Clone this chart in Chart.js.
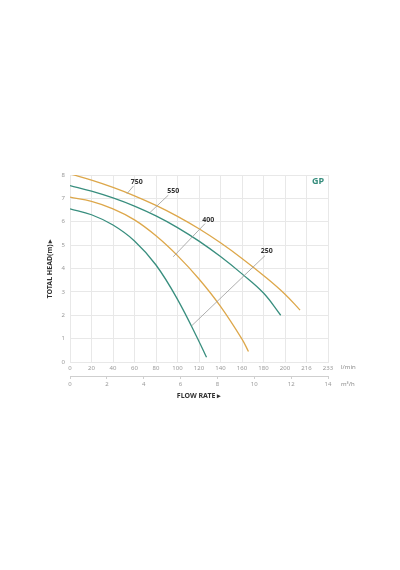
<!DOCTYPE html>
<html>
<head>
<meta charset="utf-8">
<script src="https://cdn.jsdelivr.net/npm/chart.js@4.4.0/dist/chart.umd.min.js"></script>
<style>
  html, body { margin: 0; padding: 0; background: #fff; }
  #wrap { width: 400px; height: 570px; position: relative; }
</style>
</head>
<body>
<div id="wrap"><canvas id="c1"></canvas></div>
<script>
// pump curves, flow in l/min (scale units), head in m
var q750 = [0, 20, 40, 60, 80, 100, 120, 140, 160, 180, 200, 214];
var h750 = [8.05, 7.78, 7.47, 7.11, 6.7, 6.23, 5.7, 5.1, 4.43, 3.7, 2.9, 2.22];
var q550 = [0, 20, 40, 60, 80, 100, 120, 140, 160, 180, 196];
var h550 = [7.55, 7.31, 7.02, 6.67, 6.25, 5.75, 5.17, 4.51, 3.77, 2.95, 2.0];
var q400 = [0, 20, 40, 60, 80, 100, 120, 140, 160, 166];
var h400 = [7.05, 6.87, 6.55, 6.08, 5.4, 4.55, 3.55, 2.38, 0.98, 0.45];
var q250 = [0, 20, 40, 60, 80, 100, 120, 127];
var h250 = [6.55, 6.3, 5.86, 5.18, 4.15, 2.68, 0.88, 0.2];

// tick labels (last two are not evenly spaced in value, but are on the chart)
var lminTicks = {0: '0', 20: '20', 40: '40', 60: '60', 80: '80', 100: '100', 120: '120',
  140: '140', 160: '160', 180: '180', 200: '200', 220: '216', 240: '233'};

// model labels: [text, textQ, textH, lineQ1, lineH1, lineQ2, lineH2]
var modelLabels = [
  ['750', 62, 7.68, 59, 7.53, 53, 7.2],
  ['550', 96, 7.3, 91.5, 7.14, 74.5, 6.4],
  ['400', 128.7, 6.08, 125.6, 5.92, 96, 4.5],
  ['250', 183, 4.74, 181.4, 4.55, 113.2, 1.55]
];

var orange = 'rgb(221,167,74)';
var teal = 'rgb(56,142,126)';

function pts(q, h) {
  var out = [];
  for (var i = 0; i < q.length; i++) out.push({x: q[i], y: h[i]});
  return out;
}

var textPlugin = {
  id: 'texts',
  afterDatasetsDraw: function(chart) {
    var ctx = chart.ctx;
    var xs = chart.scales.x, ys = chart.scales.y;
    ctx.save();
    // leader lines + model names
    for (var i = 0; i < modelLabels.length; i++) {
      var m = modelLabels[i];
      ctx.strokeStyle = '#9a9a9a';
      ctx.lineWidth = 0.8;
      ctx.beginPath();
      ctx.moveTo(xs.getPixelForValue(m[3]), ys.getPixelForValue(m[4]));
      ctx.lineTo(xs.getPixelForValue(m[5]), ys.getPixelForValue(m[6]));
      ctx.stroke();
      ctx.fillStyle = '#333';
      ctx.font = 'bold 7px "Noto Sans"';
      ctx.textAlign = 'center';
      ctx.textBaseline = 'middle';
      ctx.fillText(m[0], xs.getPixelForValue(m[1]), ys.getPixelForValue(m[2]));
    }
    // series name
    ctx.fillStyle = teal;
    ctx.font = 'bold 9px "Noto Sans"';
    ctx.textAlign = 'center';
    ctx.fillText('GP', chart.chartArea.right - 10, chart.chartArea.top + 6);
    // units
    ctx.fillStyle = '#888';
    ctx.font = '6px "Noto Sans"';
    ctx.textAlign = 'left';
    ctx.fillText('l/min', chart.chartArea.right + 13, 367.5);
    ctx.fillText('m\u00b3/h', chart.chartArea.right + 13, 384.5);
    ctx.restore();
  }
};

var ctx = document.getElementById('c1').getContext('2d');
var chart1 = new Chart(ctx, {
  type: 'scatter',
  data: {
    datasets: [
      {label: '750', data: pts(q750, h750), borderColor: orange},
      {label: '550', data: pts(q550, h550), borderColor: teal},
      {label: '400', data: pts(q400, h400), borderColor: orange},
      {label: '250', data: pts(q250, h250), borderColor: teal}
    ]
  },
  options: {
    responsive: true,
    maintainAspectRatio: false,
    animation: false,
    layout: {padding: {left: 46, top: 175, right: 72, bottom: 170}},
    elements: {
      point: {radius: 0},
      line: {borderWidth: 1.3, tension: 0.4, fill: false}
    },
    datasets: {scatter: {showLine: true}},
    plugins: {legend: {display: false}, tooltip: {enabled: false}},
    scales: {
      x: {
        type: 'linear', min: 0, max: 240, weight: 0,
        afterFit: function(s) { s.height = 14; },
        grid: {color: '#e8e8e8', lineWidth: 1, drawTicks: false},
        border: {color: '#e8e8e8'},
        ticks: {stepSize: 20, padding: 3, color: '#999', font: {size: 6, family: 'Noto Sans'},
          maxRotation: 0, autoSkip: false,
          callback: function(v) { return lminTicks[v]; }}
      },
      x2: {
        type: 'linear', position: 'bottom', min: 0, max: 14, weight: 1,
        afterFit: function(s) { s.height = 24; },
        grid: {drawOnChartArea: false, drawTicks: true, tickLength: 3, color: '#cfcfcf'},
        border: {color: '#cfcfcf'},
        ticks: {stepSize: 2, padding: 2, color: '#999', font: {size: 6, family: 'Noto Sans'}, maxRotation: 0},
        title: {display: true, text: 'FLOW RATE \u25b8', color: '#333', padding: 0,
          font: {size: 7, weight: 'bold', family: 'Noto Sans'}}
      },
      y: {
        min: 0, max: 8,
        afterFit: function(s) { s.width = 24; },
        grid: {color: '#e8e8e8', lineWidth: 1, drawTicks: false},
        border: {color: '#e8e8e8'},
        ticks: {stepSize: 1, padding: 5, color: '#999', font: {size: 6, family: 'Noto Sans'}},
        title: {display: true, text: 'TOTAL HEAD(m) \u25b8', color: '#333', padding: 0,
          font: {size: 7, weight: 'bold', family: 'Noto Sans'}}
      }
    }
  },
  plugins: [textPlugin]
});
</script>
</body>
</html>
